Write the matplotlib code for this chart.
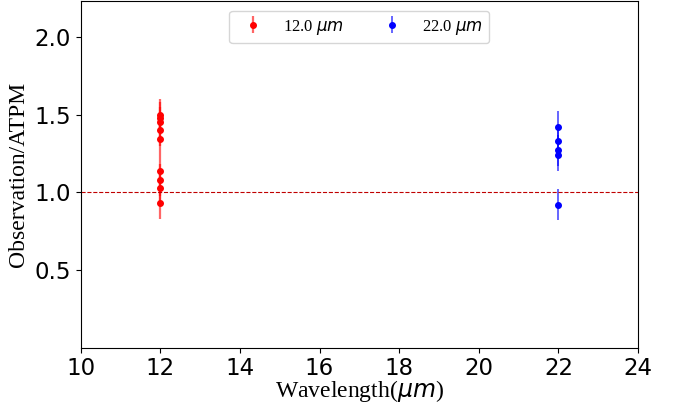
import matplotlib
matplotlib.use('Agg')
from matplotlib import pyplot as plt

# wavelength groups and observation/ATPM ratios
wl_12 = [12.0] * 9
ratio_12 = [1.50, 1.48, 1.45, 1.40, 1.34, 1.14, 1.08, 1.03, 0.93]
err_12 = [0.10] * 9

wl_22 = [22.0] * 5
ratio_22 = [1.42, 1.33, 1.27, 1.24, 0.92]
err_22 = [0.10] * 5

xticks = [10, 12, 14, 16, 18, 20, 22, 24]
yticks = [0.5, 1.0, 1.5, 2.0]

fig = plt.figure(figsize=(6.78, 4.04), dpi=100)
ax = fig.add_axes([0.119, 0.138, 0.822, 0.860])

ax.errorbar(wl_12, ratio_12, yerr=err_12, fmt='o', color='r', ms=4,
            ecolor=(1, 0, 0, 0.6), elinewidth=1.6, label=r'12.0 $\mu m$')
ax.errorbar(wl_22, ratio_22, yerr=err_22, fmt='o', color='b', ms=4,
            ecolor=(0, 0, 1, 0.7), elinewidth=1.2, label=r'22.0 $\mu m$')
ax.axhline(1.0, color='#c00000', ls='--', lw=0.8)

ax.set_xlim(10, 24)
ax.set_ylim(0.0, 2.23)
ax.set_xticks(xticks)
ax.set_yticks(yticks)
ax.tick_params(labelsize=16.5)
ax.tick_params(axis='x', pad=2.5)
ax.set_xlabel(r'Wavelength($\mu m$)', family='Liberation Serif', fontsize=17, labelpad=-1)
ax.set_ylabel('Observation/ATPM', family='Liberation Serif', fontsize=17)
ax.legend(loc='upper center', ncol=2, prop={'family': 'Liberation Serif', 'size': 12},
          bbox_to_anchor=(0.5, 0.995), columnspacing=1.9)

fig.savefig('out.png', dpi=100)
